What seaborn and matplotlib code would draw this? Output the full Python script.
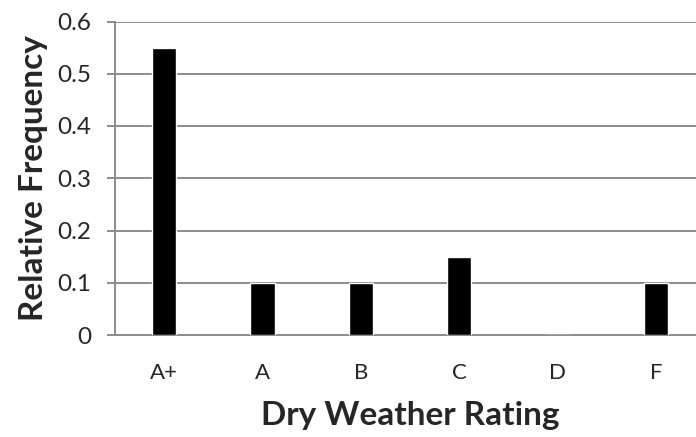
import seaborn as sns
import matplotlib.pyplot as plt

# data
ratings = ["A+", "A", "B", "C", "D", "F"]
rel_freq = [0.55, 0.1, 0.1, 0.15, 0.0, 0.1]
y_ticks = [0, 0.1, 0.2, 0.3, 0.4, 0.5, 0.6]
y_tick_labels = ["0", "0.1", "0.2", "0.3", "0.4", "0.5", "0.6"]

sns.set_theme(style="white")
plt.rcParams['font.family'] = ['Lato', 'DejaVu Sans']

fig = plt.figure(figsize=(6.96, 4.37), dpi=100)
# axes runs slightly past the right edge, like the cropped original
ax = fig.add_axes([115 / 696, 1 - 335 / 437, 590 / 696, (335 - 21.5) / 437])

sns.barplot(x=ratings, y=rel_freq, color="black", width=0.245,
            saturation=1, ax=ax, zorder=3)

grid_gray = "#8c8c8c"
ax.set_ylim(0, 0.6)
ax.set_xlim(-0.5, 5.5)
ax.set_yticks(y_ticks)
ax.set_yticklabels(y_tick_labels)
ax.yaxis.grid(True, color=grid_gray, linewidth=1.4, zorder=0)
ax.set_axisbelow(True)

for side in ["top", "right"]:
    ax.spines[side].set_visible(False)
ax.spines["left"].set_color(grid_gray)
ax.spines["left"].set_linewidth(1.4)
ax.spines["bottom"].set_color(grid_gray)
ax.spines["bottom"].set_linewidth(1.4)

ax.tick_params(axis="y", length=6, width=1.4, color=grid_gray, pad=11,
               labelsize=17.5, left=True)
ax.tick_params(axis="x", length=0, pad=20, labelsize=16)

ax.set_xlabel("Dry Weather Rating", fontsize=24, fontweight="bold", labelpad=13)
ax.set_ylabel("Relative Frequency", fontsize=24, fontweight="bold", labelpad=7)

plt.savefig("out.png", dpi=100)
